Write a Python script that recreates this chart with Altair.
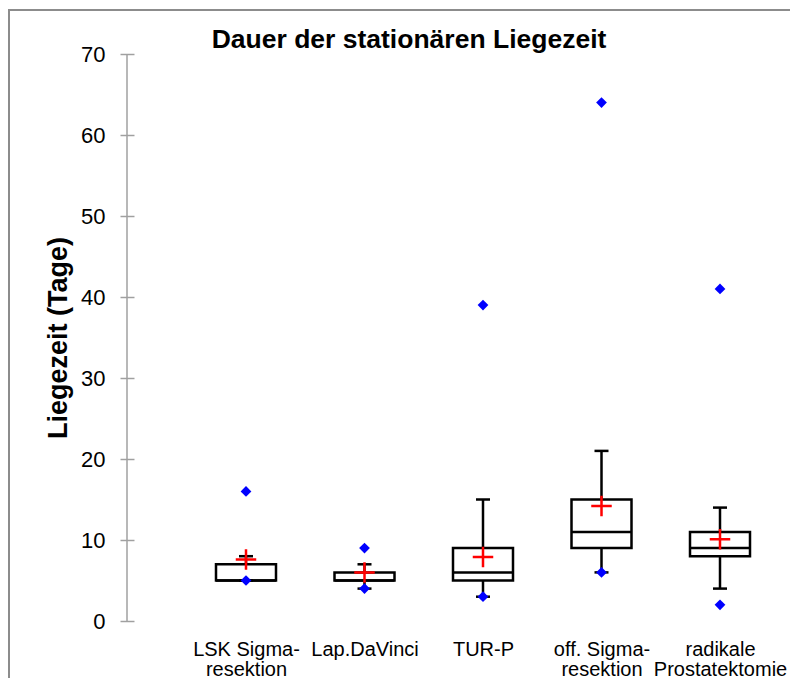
import altair as alt
import pandas as pd

title_text = "Dauer der stationären Liegezeit"
categories = ["LSK Sigma-\nresektion", "Lap.DaVinci", "TUR-P", "off. Sigma-\nresektion", "radikale\nProstatektomie"]
q1 = [5, 5, 5, 9, 8]
median = [5, 5, 6, 11, 9]
q3 = [7, 6, 9, 15, 11]
whisker_low = [5, 4, 3, 6, 4]
whisker_high = [8, 7, 15, 21, 14]
mean = [7.6, 6.0, 7.9, 14.2, 10.1]
minimum = [5, 4, 3, 6, 2]
maximum = [16, 9, 39, 64, 41]

df = pd.DataFrame({
    "cat": categories, "q1": q1, "median": median, "q3": q3,
    "wlo": whisker_low, "whi": whisker_high, "mean": mean,
    "min": minimum, "max": maximum,
})

FONT = "Liberation Sans"
W, H = 655, 567

xenc = alt.X("cat:N", sort=categories,
             scale=alt.Scale(type="point", range=[119, 593], padding=0),
             axis=alt.Axis(title=None, domain=False, ticks=False, tickSize=0,
                           labelAngle=0, labelPadding=18, labelFontSize=20,
                           labelLineHeight=20, labelColor="black", labelFont=FONT,
                           labelExpr="split(datum.label, '\\n')"))
yscale = alt.Scale(domain=[0, 70], nice=False, zero=True)
yaxis = alt.Axis(title="Liegezeit (Tage)", values=[0, 10, 20, 30, 40, 50, 60, 70],
                 grid=False, domain=False, offset=-7, tickSize=14, tickColor="#a0a0a0",
                 tickWidth=1.5, labelPadding=15, labelFontSize=22, labelColor="black",
                 labelFont=FONT, titleFont=FONT, titleFontSize=27, titleFontWeight="bold",
                 titleColor="black", titleX=-62, titleY=H / 2)

base = alt.Chart(df)

whisk = base.mark_rule(color="black", strokeWidth=2.5, opacity=1).encode(
    x=xenc, y=alt.Y("wlo:Q", scale=yscale, axis=yaxis), y2="whi:Q")
box = base.mark_bar(size=60, fill="white", stroke="black", strokeWidth=2.5, opacity=1).encode(
    x=xenc, y=alt.Y("q1:Q", scale=yscale, axis=yaxis), y2="q3:Q")
med = base.mark_tick(color="black", size=60, thickness=2.5, opacity=1).encode(
    x=xenc, y=alt.Y("median:Q", scale=yscale, axis=yaxis))
cap_lo = base.mark_tick(color="black", size=14, thickness=2.5, opacity=1).encode(
    x=xenc, y=alt.Y("wlo:Q", scale=yscale, axis=yaxis))
cap_hi = base.mark_tick(color="black", size=14, thickness=2.5, opacity=1).encode(
    x=xenc, y=alt.Y("whi:Q", scale=yscale, axis=yaxis))
pmin = base.mark_point(shape="diamond", filled=True, color="#0000ff", size=115, opacity=1).encode(
    x=xenc, y=alt.Y("min:Q", scale=yscale, axis=yaxis))
pmax = base.mark_point(shape="diamond", filled=True, color="#0000ff", size=115, opacity=1).encode(
    x=xenc, y=alt.Y("max:Q", scale=yscale, axis=yaxis))
pmean = base.mark_point(shape="M-1,0H1M0,-1V1", filled=False, stroke="#ff0000",
                        strokeWidth=2.5, size=420, opacity=1).encode(
    x=xenc, y=alt.Y("mean:Q", scale=yscale, axis=yaxis))

one = pd.DataFrame({"a": [0]})
ydomain = alt.Chart(one).mark_rule(color="#a0a0a0", strokeWidth=1.5).encode(
    x=alt.value(0), y=alt.datum(0, scale=yscale), y2=alt.datum(70))

frame_left = alt.Chart(one).mark_rule(color="#8c8c8c", strokeWidth=2).encode(
    x=alt.value(-118), y=alt.value(-44), y2=alt.value(624))
frame_top = alt.Chart(one).mark_rule(color="#8c8c8c", strokeWidth=2).encode(
    x=alt.value(-119), x2=alt.value(663), y=alt.value(-44))

title = alt.Chart(one).mark_text(font=FONT, fontSize=26.5, fontWeight="bold", color="black",
                                 align="center", baseline="alphabetic").encode(
    x=alt.value(282), y=alt.value(-6), text=alt.value(title_text))

chart = alt.layer(frame_left, frame_top, ydomain, whisk, box, med, cap_lo, cap_hi,
                  pmin, pmax, pmean, title).properties(
    width=W, height=H,
    autosize=alt.AutoSizeParams(type="none"),
    padding={"left": 119, "top": 46, "right": 8, "bottom": 57},
).configure(background="white").configure_view(stroke=None)

chart.save("out.html", embed_options={"renderer": "svg", "actions": False})
